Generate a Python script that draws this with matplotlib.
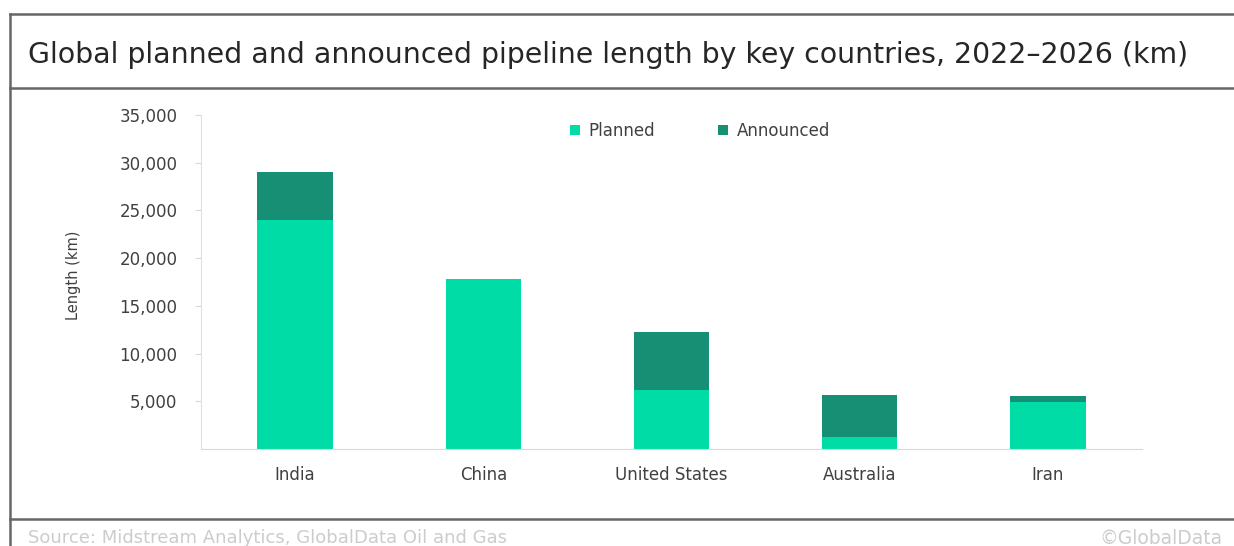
import matplotlib.pyplot as plt
from matplotlib.ticker import FuncFormatter

countries = ["India", "China", "United States", "Australia", "Iran"]
planned = [24000, 17800, 6200, 1300, 4900]
announced = [5000, 0, 6100, 4400, 700]

c_planned = "#00dca5"
c_announced = "#178f74"

fig = plt.figure(figsize=(12.34, 5.46), dpi=100)

# outer frame lines
for y in [1 - 14 / 546, 1 - 88 / 546, 1 - 519 / 546]:
    fig.add_artist(plt.Line2D([10 / 1234, 1], [y, y], color="#666666", lw=1.8))
fig.add_artist(plt.Line2D([10 / 1234, 10 / 1234], [0, 1 - 14 / 546], color="#666666", lw=1.8))

fig.text(28 / 1234, 1 - 55 / 546, "Global planned and announced pipeline length by key countries, 2022\u20132026 (km)",
         fontsize=20.4, color="#262626", va="center")
fig.text(28 / 1234, 1 - 538 / 546, "Source: Midstream Analytics, GlobalData Oil and Gas",
         fontsize=13, color="#cccccc", va="center")
fig.text(1222 / 1234, 1 - 538 / 546, "\u00a9GlobalData",
         fontsize=13.5, color="#cccccc", va="center", ha="right")

ax = fig.add_axes([201 / 1234, 1 - 449 / 546, 941 / 1234, 334 / 546])
x = range(len(countries))
ax.bar(x, planned, width=0.4, color=c_planned, label="Planned")
ax.bar(x, announced, width=0.4, bottom=planned, color=c_announced, label="Announced")

ax.set_xlim(-0.5, 4.5)
ax.set_ylim(0, 35000)
ax.set_yticks(range(5000, 35001, 5000))
ax.yaxis.set_major_formatter(FuncFormatter(lambda v, p: f"{int(v):,}"))
ax.set_xticks(list(x))
ax.set_xticklabels(countries)
ax.tick_params(axis="y", length=4, color="#d9d9d9", labelsize=12, labelcolor="#404040", pad=13)
ax.tick_params(axis="x", length=0, labelsize=12, labelcolor="#404040", pad=12)
for s in ["top", "right"]:
    ax.spines[s].set_visible(False)
ax.spines["left"].set_color("#e0e0e0")
ax.spines["bottom"].set_color("#d9d9d9")
ax.set_ylabel("Length (km)", fontsize=10.5, color="#404040")
ax.yaxis.set_label_coords(-0.128, 0.52)

ax.legend(loc="center", bbox_to_anchor=(700 / 1234, 1 - 131 / 546), bbox_transform=fig.transFigure,
          ncol=2, frameon=False, fontsize=12, handlelength=0.6, handleheight=0.6,
          columnspacing=3.8, handletextpad=0.5, labelcolor="#404040")

fig.savefig("out.png", dpi=100)
